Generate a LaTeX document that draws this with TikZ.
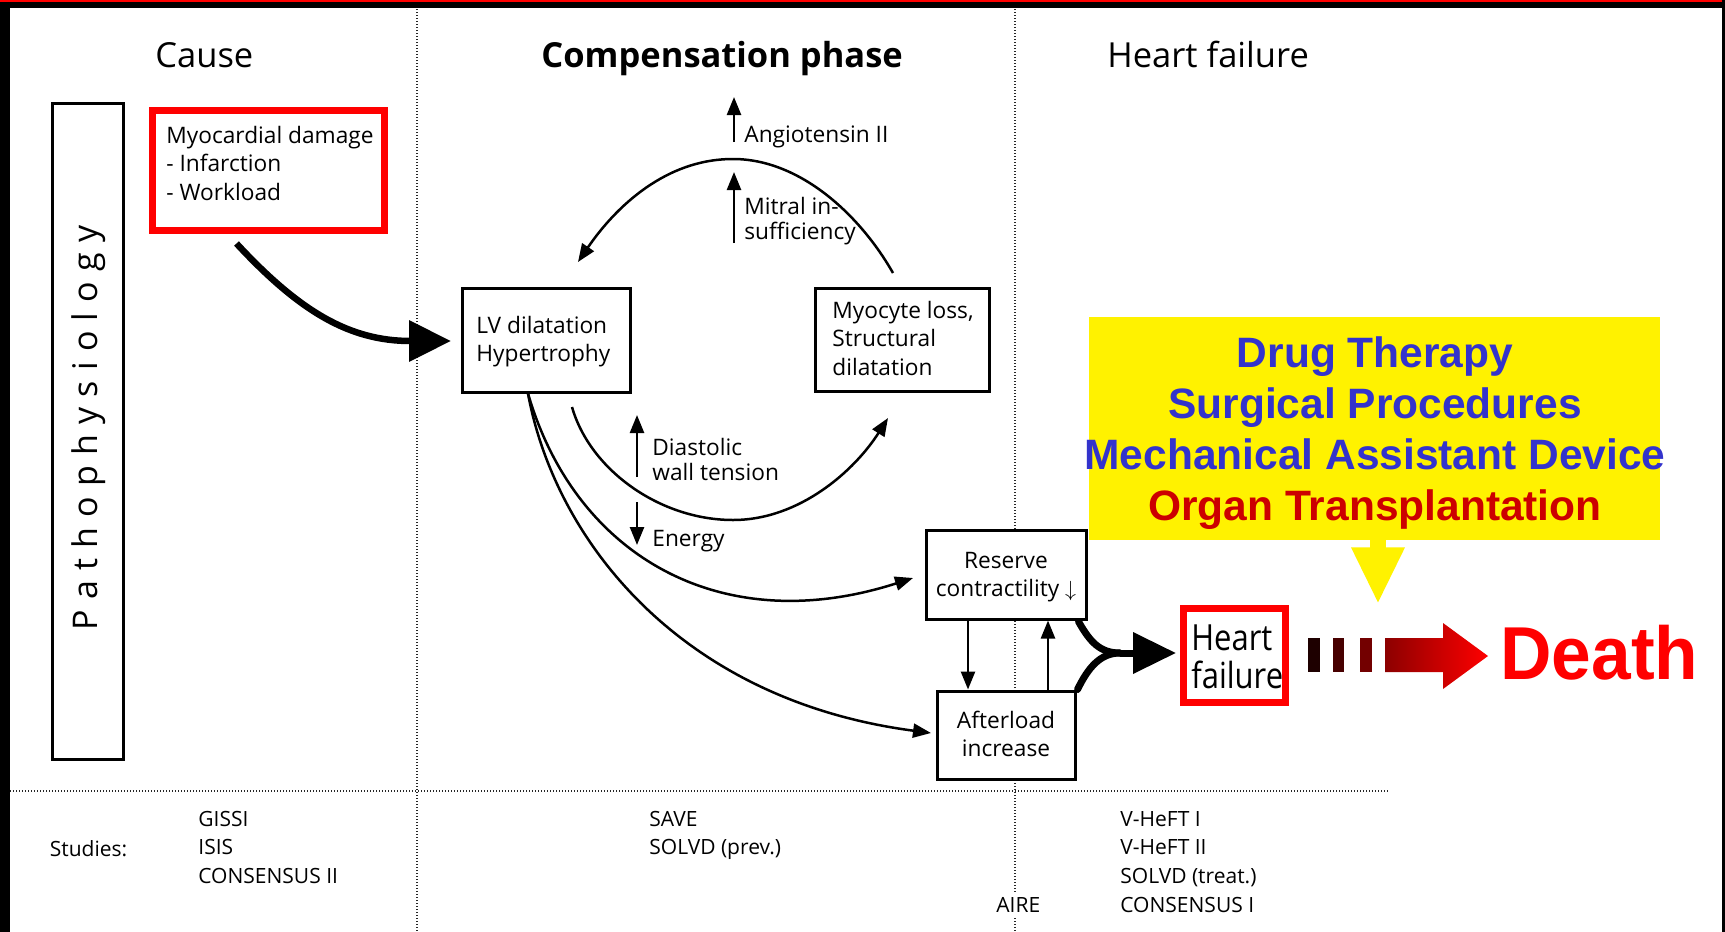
\documentclass[tikz,border=0pt]{standalone}
\usepackage{fontspec}
\setmainfont{Open Sans}
\newfontfamily\arialf{Liberation Sans}
\newfontfamily\spacedf{Open Sans}[LetterSpace=30]
\usetikzlibrary{arrows.meta,calc}
\definecolor{tblue}{RGB}{51,51,204}
\definecolor{dred}{RGB}{204,0,0}
\definecolor{barA}{RGB}{30,0,0}
\definecolor{barB}{RGB}{72,0,0}
\definecolor{barC}{RGB}{115,0,0}
\definecolor{shaftl}{RGB}{140,0,0}
\newcommand{\vlines}[1]{\vtop{\halign{##\hfil\cr#1\crcr}}}
\newcommand{\vclines}[1]{\vtop{\halign{\hfil##\hfil\cr#1\crcr}}}
\tikzset{
  box/.style={draw=black, line width=1.5pt, inner sep=0pt, fill=white},
  redbox/.style={draw=red, line width=3.5pt, inner sep=0pt, fill=white},
  txt/.style={inner sep=0pt, anchor=base west, font=\fontsize{11.35}{14.4}\selectfont},
  ctxt/.style={inner sep=0pt, anchor=base, font=\fontsize{11.35}{14.2}\selectfont},
  lbl/.style={inner sep=0pt, anchor=base west, font=\fontsize{11.35}{12.8}\selectfont},
  ttl/.style={inner sep=0pt, anchor=base west, font=\fontsize{17.25}{20}\selectfont},
  study/.style={inner sep=0pt, anchor=base west, font=\fontsize{10.5}{14.35}\selectfont},
  dotline/.style={line width=0.6pt, dash pattern=on 0.6pt off 0.9pt, black!85},
  thinarrow/.style={line width=1.25pt, -{Triangle[length=9pt,width=7pt]}},
  heavyarrow/.style={line width=3.25pt, -{Triangle[length=21pt,width=20pt]}}
}
\begin{document}
\begin{tikzpicture}[x=0.5pt,y=-0.5pt]
\useasboundingbox (0,0) rectangle (1725,932);
\fill[white] (0,0) rectangle (1725,932);
% frame
\fill[black] (0,0) rectangle (10,932);
\fill[black] (0,0) rectangle (1725,8);
\fill[red] (0,0) rectangle (1725,1.5);
\fill[black] (1722,0) rectangle (1725,932);
% dotted separators
\draw[dotline] (417,9) -- (417,932);
\draw[dotline] (1015,9) -- (1015,932);
\draw[dotline] (10,791) -- (1388,791);

% titles
\node[ttl] (tcause) at (155,67) {Cause};
\node[ttl, font=\bfseries\fontsize{17.25}{20}\selectfont] (tcomp) at (541,67) {Compensation phase};
\node[ttl] (thf) at (1107,67) {Heart failure};

% pathophysiology
\node[box, minimum width=35.5pt, minimum height=328pt] (patho) at (87.5,431) {};
\node[rotate=90, anchor=base, inner sep=0pt, font=\spacedf\fontsize{17}{20}\selectfont] (pathotxt) at (97,428) {Pathophysiology};

% boxes
\node[redbox, minimum width=116pt, minimum height=60pt] (dmg) at (268,170) {};
\node[txt] (dmgtxt) at (166,143) {\vlines{Myocardial damage\cr - Infarction\cr - Workload}};

\node[box, minimum width=84pt, minimum height=52pt] (lv) at (546,340) {};
\node[txt] (lvtxt) at (476,333) {\vlines{LV dilatation\cr Hypertrophy}};

\node[box, minimum width=87pt, minimum height=51.5pt] (myo) at (902,339.5) {};
\node[txt] (myotxt) at (832,318) {\vlines{Myocyte loss,\cr Structural\cr dilatation}};

\node[box, minimum width=80pt, minimum height=44.5pt] (res) at (1006,574.5) {};
\node[ctxt] (restxt) at (1006,568) {\vclines{Reserve\cr contractility $\downarrow$}};

\node[box, minimum width=69pt, minimum height=44pt] (aft) at (1006,735) {};
\node[ctxt] (afttxt) at (1006,728) {\vclines{Afterload\cr increase}};

% labels
\node[lbl] (ang) at (744,142) {Angiotensin II};
\node[lbl] (mit) at (744,214) {\vlines{Mitral in-\cr sufficiency}};
\node[lbl] (dia) at (652,455) {\vlines{Diastolic\cr wall tension}};
\node[lbl] (ene) at (652,546) {Energy};

\draw[thinarrow] ($(ang.base west)+(-10,0)$) -- ($(ang.base west)+(-10,-45)$);
\draw[thinarrow] ($(mit.base west)+(-10,29)$) -- ($(mit.base west)+(-10,-42)$);
\draw[thinarrow] ($(dia.base west)+(-15,22)$) -- ($(dia.base west)+(-15,-40)$);
\draw[thinarrow] ($(ene.base west)+(-15,-44)$) -- ($(ene.base west)+(-15,-1)$);

% cause arrow
\draw[heavyarrow] ($(dmg.south west)+(88,10)$) .. controls (300,312) and (350,341) .. ($(lv.west)+(-9.5,1)$);

% cycle arcs
\draw[thinarrow] ($(myo.north)+(-9,-13.5)$) .. controls (860,215) and (800,159) .. (733,159) .. controls (660,159) and (610,215) .. ($(lv.north)+(32,-24.5)$);
\draw[thinarrow] ($(lv.south)+(26,13.5)$) .. controls (590,470) and (660,520) .. (733,520) .. controls (800,520) and (855,470) .. ($(myo.south)+(-14,25.5)$);

% curves to reserve / afterload
\draw[thinarrow] ($(lv.south)+(-18,0)$) .. controls (575,555) and (720,640) .. ($(res.west)+(-11.5,3.5)$);
\draw[thinarrow] ($(lv.south)+(-18,0)$) .. controls (555,540) and (680,700) .. ($(aft.west)+(-4.5,-2)$);

% between reserve and afterload
\draw[thinarrow] ($(res.south west)+(43.5,0)$) -- ($(aft.north west)+(32.5,0)$);
\draw[thinarrow] ($(aft.north west)+(112.5,0)$) -- ($(res.south west)+(123.5,0)$);

% heart failure box
\node[redbox, minimum width=51pt, minimum height=47pt] (hf) at (1234,655) {};
\node[inner sep=0pt, anchor=base west, xscale=0.86, font=\fontsize{18}{19}\selectfont] (hftxt) at (1191,650) {\vlines{Heart\cr failure}};

% merge arrow
\coordinate (mrg) at (1120,653);
\draw[line width=3.5pt, line cap=round] ($(res.south east)+(-9,1)$) .. controls (1090,642) and (1100,653) .. (mrg);
\draw[line width=3.5pt, line cap=round] ($(aft.north east)+(1,0)$) .. controls (1088,668) and (1100,653) .. (mrg);
\draw[line width=3.5pt, -{Triangle[length=21.5pt,width=20pt]}] (mrg) -- ($(hf.west)+(-3.5,-2)$);

% yellow therapy box
\node[fill=yellow, inner sep=0pt, minimum width=285.5pt, minimum height=111.5pt] (yel) at (1374.5,428.5) {};
\node[inner sep=0pt, anchor=base, font=\arialf\bfseries\fontsize{21.25}{25.5}\selectfont] (yeltxt) at (1375,367)
  {\vclines{\textcolor{tblue}{Drug Therapy}\cr \textcolor{tblue}{Surgical Procedures}\cr \textcolor{tblue}{Mechanical Assistant Device}\cr \textcolor{dred}{Organ Transplantation}}};
\fill[yellow] ($(yel.south)+(-4.5,-0.5)$) rectangle ($(yel.south)+(11.5,7.5)$);
\fill[yellow] ($(yel.south)+(-23.5,7)$) -- ($(yel.south)+(30.5,7)$) -- ($(yel.south)+(3.5,62)$) -- cycle;

% gradient arrow to death
\fill[barA] (1308,638) rectangle (1320,672);
\fill[barB] (1333,638) rectangle (1344,672);
\fill[barC] (1360,638) rectangle (1372,672);
\shade[left color=shaftl, right color=red] (1385,638) -- (1443,638) -- (1443,623) -- (1488,656) -- (1443,689) -- (1443,672) -- (1385,672) -- cycle;
\node[inner sep=0pt, anchor=base west, xscale=0.95, text=red, font=\arialf\bfseries\fontsize{37.5}{40}\selectfont] (death) at (1500,679) {Death};

% studies
\node[study] (stud) at (49.5,856) {Studies:};
\node[study] (s1) at (198,826) {\vlines{GISSI\cr ISIS\cr CONSENSUS II}};
\node[study] (s2) at (649,826) {\vlines{SAVE\cr SOLVD (prev.)}};
\node[study, fill=white, inner ysep=2pt] (s3) at (996,912) {AIRE};
\node[study] (s4) at (1120,826) {\vlines{V-HeFT I\cr V-HeFT II\cr SOLVD (treat.)\cr CONSENSUS I}};
\end{tikzpicture}
\end{document}
